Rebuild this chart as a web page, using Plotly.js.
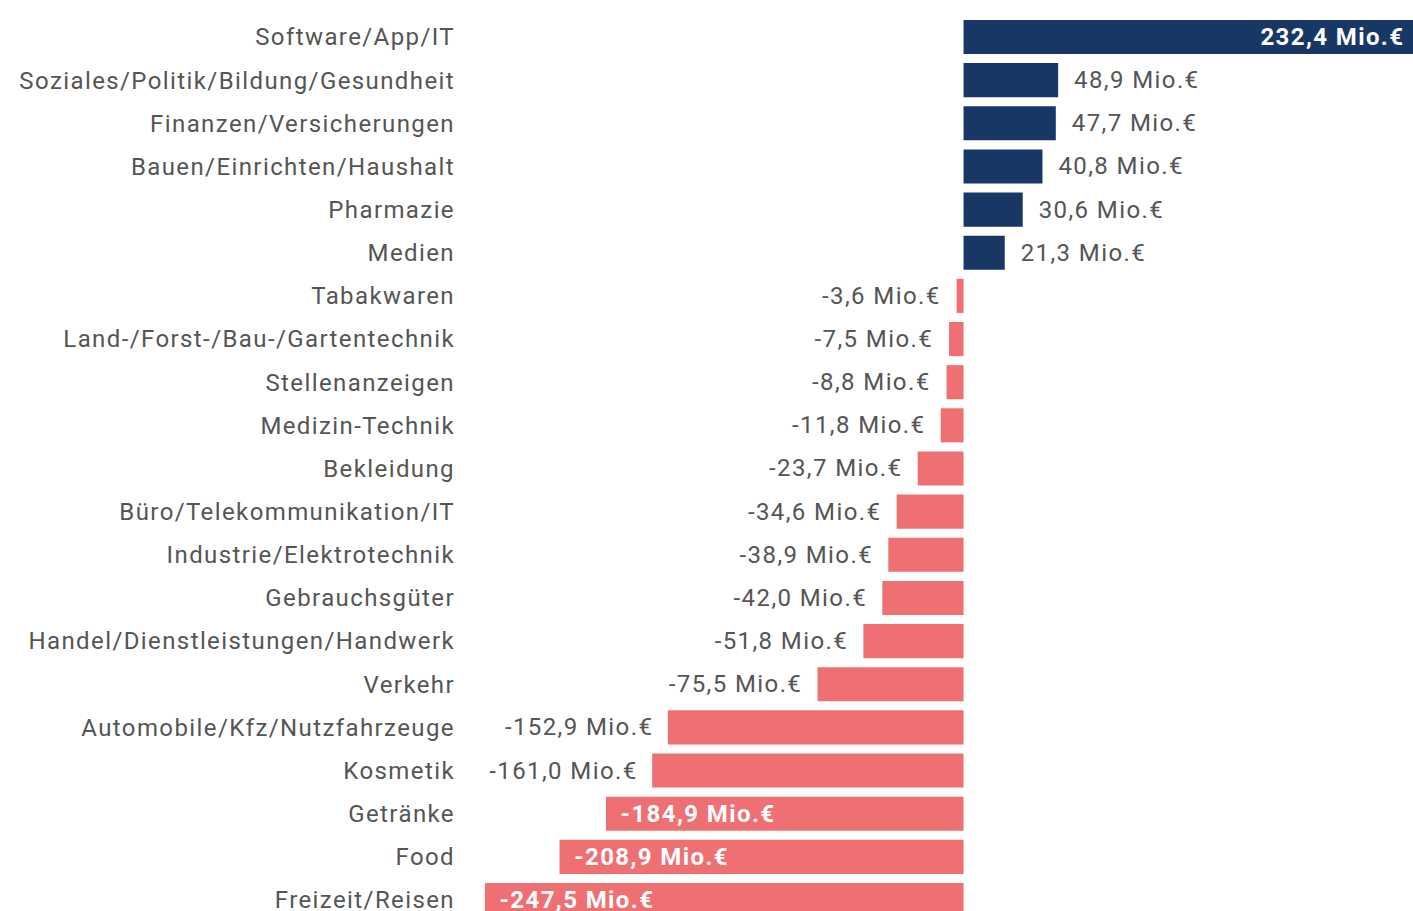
<!DOCTYPE html>
<html>
<head>
<meta charset="utf-8">
<script src="https://cdn.plot.ly/plotly-3.0.1.min.js"></script>
<style>
html,body{margin:0;padding:0;background:#fff;overflow:hidden}
#chart svg text{letter-spacing:1.4px}
</style>
</head>
<body>
<div id="chart" style="width:1413px;height:911px"></div>
<script>
const categories = [
  "Software/App/IT",
  "Soziales/Politik/Bildung/Gesundheit",
  "Finanzen/Versicherungen",
  "Bauen/Einrichten/Haushalt",
  "Pharmazie",
  "Medien",
  "Tabakwaren",
  "Land-/Forst-/Bau-/Gartentechnik",
  "Stellenanzeigen",
  "Medizin-Technik",
  "Bekleidung",
  "Büro/Telekommunikation/IT",
  "Industrie/Elektrotechnik",
  "Gebrauchsgüter",
  "Handel/Dienstleistungen/Handwerk",
  "Verkehr",
  "Automobile/Kfz/Nutzfahrzeuge",
  "Kosmetik",
  "Getränke",
  "Food",
  "Freizeit/Reisen"
];
const values = [232.4, 48.9, 47.7, 40.8, 30.6, 21.3, -3.6, -7.5, -8.8, -11.8, -23.7, -34.6, -38.9, -42.0, -51.8, -75.5, -152.9, -161.0, -184.9, -208.9, -247.5];
const unit = " Mio.€";

const POS = '#183764', NEG = '#ef7073';
const NB = '\u00a0';
const inside = values.map(v => Math.abs(v) > 180);
const fmt = v => v.toFixed(1).replace('.', ',') + unit;
const texts = values.map((v, i) => {
  const s = fmt(v);
  if (inside[i]) return v < 0 ? NB + NB + NB + s : s + NB + NB;
  return v < 0 ? s + NB + NB + NB : NB + NB + NB + s;
});

const trace = {
  type: 'bar',
  orientation: 'h',
  y: categories,
  x: values,
  marker: {color: values.map(v => v >= 0 ? POS : NEG), line: {width: 0}},
  text: texts,
  textposition: inside.map(b => b ? 'inside' : 'outside'),
  insidetextanchor: 'end',
  textangle: 0,
  insidetextfont: {family: 'Roboto, sans-serif', size: 24, color: '#ffffff', weight: 700},
  outsidetextfont: {family: 'Roboto, sans-serif', size: 24, color: '#555555'},
  constraintext: 'none',
  cliponaxis: true,
  hoverinfo: 'none'
};

const layout = {
  width: 1413, height: 911,
  margin: {l: 470, r: 0, t: 0, b: 0, pad: 0},
  paper_bgcolor: '#ffffff', plot_bgcolor: '#ffffff',
  showlegend: false,
  bargap: 0.21,
  xaxis: {range: [-255.2, 232.4], showgrid: false, zeroline: false, showticklabels: false, ticks: '', showline: false, fixedrange: true},
  yaxis: {
    type: 'category',
    range: [20.255, -0.857],
    showgrid: false, zeroline: false, showline: false,
    ticks: '', ticklabelstandoff: 14,
    tickfont: {family: 'Roboto, sans-serif', size: 24, color: '#555555'},
    fixedrange: true
  },
  font: {family: 'Roboto, sans-serif'}
};

Plotly.newPlot('chart', [trace], layout, {displayModeBar: false, staticPlot: true});
</script>
</body>
</html>
